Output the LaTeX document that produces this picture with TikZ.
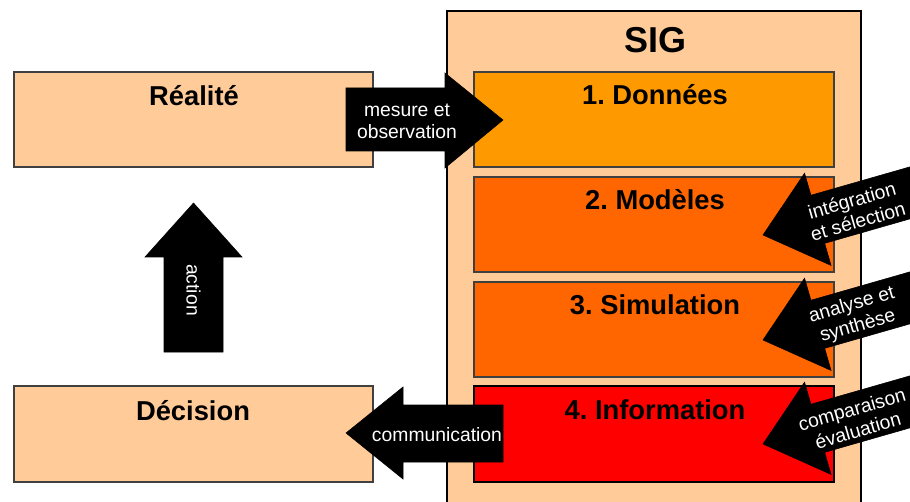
\documentclass[tikz,border=0pt]{standalone}
\usepackage{fontspec}
\setmainfont{Liberation Sans}
\frenchspacing

\definecolor{peche}{HTML}{FFCC99}
\definecolor{orangeclair}{HTML}{FF9900}
\definecolor{orangefonce}{HTML}{FF6600}
\definecolor{rouge}{HTML}{FF0000}

\tikzset{
  boite/.style={draw=black!75, line width=0.8pt},
  titre/.style={font=\fontsize{20.5}{24}\selectfont\bfseries, anchor=base, inner sep=0pt},
  fleche/.style={fill=black, draw=black, line width=0.4pt},
  etiquette/.style={font=\fontsize{14.5}{16.5}\selectfont, text=white, align=center, inner sep=0pt}
}

\begin{document}
\begin{tikzpicture}[x=0.75pt,y=0.75pt,yscale=-1,xscale=1]
\clip (0,0) rectangle (910,502);

%Shape: Rectangle [SIG]
\draw[boite, draw=black, fill=peche] (447,11) rectangle (861,515);
% Text Node
\node[titre, font=\fontsize{27}{32}\selectfont\bfseries] (sig) at (655,53) {SIG};

%Shape: Rectangle [realite]
\draw[boite, fill=peche] (14,72) rectangle (373,167);
%Shape: Rectangle [decision]
\draw[boite, fill=peche] (14,386) rectangle (373,482);

%Shape: Rectangle [donnees]
\draw[boite, fill=orangeclair] (474,72) rectangle (834,167);
%Shape: Rectangle [modeles]
\draw[boite, fill=orangefonce] (474,177) rectangle (834,272);
%Shape: Rectangle [simulation]
\draw[boite, fill=orangefonce] (474,282) rectangle (834,377);
%Shape: Rectangle [information]
\draw[boite, draw=black, fill=rouge] (474,386) rectangle (834,482);

% Text Node
\node[titre] (realite) at (194,106) {Réalité};
% Text Node
\node[titre] (decision) at (193,420) {Décision};
% Text Node
\node[titre] (donnees) at (655,105) {1. Données};
% Text Node
\node[titre] (modeles) at (655,210) {2. Modèles};
% Text Node
\node[titre] (simulation) at (655,315) {3. Simulation};
% Text Node
\node[titre] (information) at (655,419) {4. Information};

%Shape: Arrow [mesure]
\draw[fleche] (346,88) -- (445,88) -- (445,73) -- (503,120) -- (445,168) -- (445,151) -- (346,151) -- cycle;
% Text Node
\node[etiquette] (mesure) at (407,121) {mesure et\\observation};

%Shape: Arrow [communication]
\draw[fleche] (503,405) -- (403,405) -- (403,387) -- (346,433) -- (403,479) -- (403,462) -- (503,462) -- cycle;
% Text Node
\node[etiquette] (communication) at (437,435) {communication};

%Shape: Arrow [action]
\draw[fleche] (164,352) -- (164,257) -- (145,257) -- (193.5,203) -- (242,257) -- (223,257) -- (223,352) -- cycle;
% Text Node
\node[etiquette, rotate=-90] (action) at (193.5,290) {action};

%Shape: Arrow [integration]
\begin{scope}[shift={(763,235)},rotate=-16]
\draw[fleche] (0,0) -- (57,-48) -- (57,-25) -- (190,-25) -- (190,25) -- (57,25) -- (57,48) -- cycle;
\node[etiquette, rotate=16] (integration) at (95,2) {intégration\\et sélection};
\end{scope}

%Shape: Arrow [analyse]
\begin{scope}[shift={(763,340)},rotate=-16]
\draw[fleche] (0,0) -- (57,-48) -- (57,-25) -- (190,-25) -- (190,25) -- (57,25) -- (57,48) -- cycle;
\node[etiquette, rotate=16] (analyse) at (95,2) {analyse et\\synthèse};
\end{scope}

%Shape: Arrow [comparaison]
\begin{scope}[shift={(763,444)},rotate=-16]
\draw[fleche] (0,0) -- (57,-48) -- (57,-25) -- (190,-25) -- (190,25) -- (57,25) -- (57,48) -- cycle;
\node[etiquette, rotate=16] (comparaison) at (95,2) {comparaison\\évaluation};
\end{scope}

\end{tikzpicture}
\end{document}
